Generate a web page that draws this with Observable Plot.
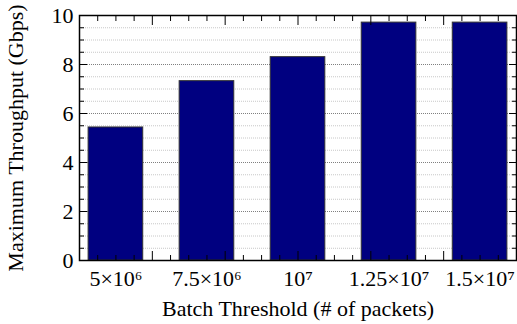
<!DOCTYPE html>
<html>
<head>
<meta charset="utf-8">
<script src="https://cdn.jsdelivr.net/npm/d3@7"></script>
<script src="https://cdn.jsdelivr.net/npm/@observablehq/plot@0.6"></script>
</head>
<body style="margin:0;padding:0;background:white">
<div id="chart"></div>
<script>
const thresholds = [5e6, 7.5e6, 1e7, 1.25e7, 1.5e7];
const throughput = [5.43, 7.32, 8.30, 9.71, 9.71];
const tickLabels = ["5×10⁶", "7.5×10⁶", "10⁷", "1.25×10⁷", "1.5×10⁷"];
const yMajorTicks = [0, 2, 4, 6, 8, 10];
const yMinorTicks = [0.5, 1, 1.5, 2.5, 3, 3.5, 4.5, 5, 5.5, 6.5, 7, 7.5, 8.5, 9, 9.5];
const xMajorTicks = [4e6, 6e6, 8e6, 1e7, 1.2e7, 1.4e7, 1.6e7];
const xMinorTicks = [4.5e6, 5e6, 5.5e6, 6.5e6, 7e6, 7.5e6, 8.5e6, 9e6, 9.5e6, 1.05e7, 1.1e7, 1.15e7, 1.25e7, 1.3e7, 1.35e7, 1.45e7, 1.5e7, 1.55e7];
const xDomain = [4e6, 1.6e7];
const yDomain = [0, 10];
const barHalfWidth = 0.75e6;

const data = thresholds.map((t, i) => ({t, v: throughput[i]}));
const none = () => "";
const serif = "Liberation Serif";

const chart = Plot.plot({
  width: 517,
  height: 324,
  marginLeft: 79,
  marginRight: 1,
  marginTop: 15,
  marginBottom: 64,
  style: {fontFamily: serif, fontSize: "22px", color: "black", background: "white"},
  x: {domain: xDomain},
  y: {domain: yDomain},
  marks: [
    Plot.ruleY(yMinorTicks, {stroke: "#c8c8c8", strokeDasharray: "1,1"}),
    Plot.ruleY(yMajorTicks.slice(1, -1), {stroke: "#808080", strokeDasharray: "1,1"}),
    Plot.rectY(data, {x1: d => d.t - barHalfWidth, x2: d => d.t + barHalfWidth, y: "v", fill: "#000080", stroke: "#333", strokeWidth: 1}),
    Plot.axisY(yMajorTicks, {anchor: "left", tickSize: -8, tickPadding: 14, label: "Maximum Throughput (Gbps)", labelAnchor: "center", labelArrow: "none", labelOffset: 72, fontSize: 22, fontFamily: serif}),
    Plot.axisY(yMinorTicks, {anchor: "left", tickSize: -5, tickFormat: none, label: null}),
    Plot.axisY(yMajorTicks, {anchor: "right", tickSize: -8, tickFormat: none, label: null}),
    Plot.axisY(yMinorTicks, {anchor: "right", tickSize: -5, tickFormat: none, label: null}),
    Plot.axisX(xMajorTicks, {anchor: "top", tickSize: -9, tickFormat: none, label: null}),
    Plot.axisX(xMinorTicks, {anchor: "top", tickSize: -5, tickFormat: none, label: null}),
    Plot.axisX(xMajorTicks, {anchor: "bottom", tickSize: -9, tickFormat: none, label: null}),
    Plot.axisX(xMinorTicks, {anchor: "bottom", tickSize: -5, tickFormat: none, label: null}),
    Plot.axisX(thresholds, {anchor: "bottom", tickSize: 0, tickPadding: 10, tickFormat: (d, i) => tickLabels[i], label: "Batch Threshold (# of packets)", labelAnchor: "center", labelArrow: "none", labelOffset: 55, fontSize: 22, fontFamily: serif}),
    Plot.frame({stroke: "black", strokeWidth: 1.5})
  ]
});
document.getElementById("chart").append(chart);
</script>
</body>
</html>
